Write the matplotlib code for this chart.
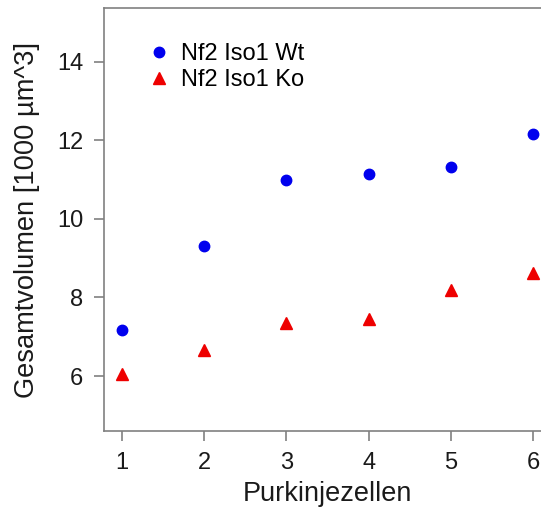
import matplotlib
matplotlib.use('Agg')
from matplotlib import pyplot as plt

# data
zellen = [1, 2, 3, 4, 5, 6]
wt_volumen = [7.17, 9.31, 10.99, 11.15, 11.33, 12.16]
ko_volumen = [6.04, 6.65, 7.35, 7.44, 8.18, 8.62]
x_ticks = [1, 2, 3, 4, 5, 6]
y_ticks = [6, 8, 10, 12, 14]

plt.rcParams['font.family'] = ['Liberation Sans', 'DejaVu Sans']

fig = plt.figure(figsize=(5.41, 5.09), dpi=100)
# axes runs past the right edge, like the cropped original
ax = fig.add_axes([104 / 541, 1 - 431 / 509, 447 / 541, 423 / 509])

ax.plot(zellen, wt_volumen, 'o', color='#0000ee', markersize=7.5,
        label='Nf2 Iso1 Wt', clip_on=False)
ax.plot(zellen, ko_volumen, '^', color='#ee0000', markersize=8.5,
        label='Nf2 Iso1 Ko', clip_on=False)

ax.set_xlim(0.78, 6.22)
ax.set_ylim(4.6, 15.37)
ax.set_xticks(x_ticks)
ax.set_yticks(y_ticks)
for s in ax.spines.values():
    s.set_color('#808080')
    s.set_linewidth(1.2)
ax.tick_params(direction='out', length=7, width=1.2, color='#808080',
               labelsize=17, labelcolor='#1a1a1a', pad=8)
ax.set_xlabel('Purkinjezellen', fontsize=19.5, color='#1a1a1a', labelpad=5)
ax.set_ylabel('Gesamtvolumen [1000 µm^3]', fontsize=19.6, color='#1a1a1a',
              labelpad=12)

ax.legend(loc='upper left', bbox_to_anchor=(0.071, 0.939), frameon=False,
          fontsize=17, handletextpad=0.3, labelspacing=0.15,
          handlelength=1.2, borderaxespad=0)

fig.savefig('out.png', dpi=100)
